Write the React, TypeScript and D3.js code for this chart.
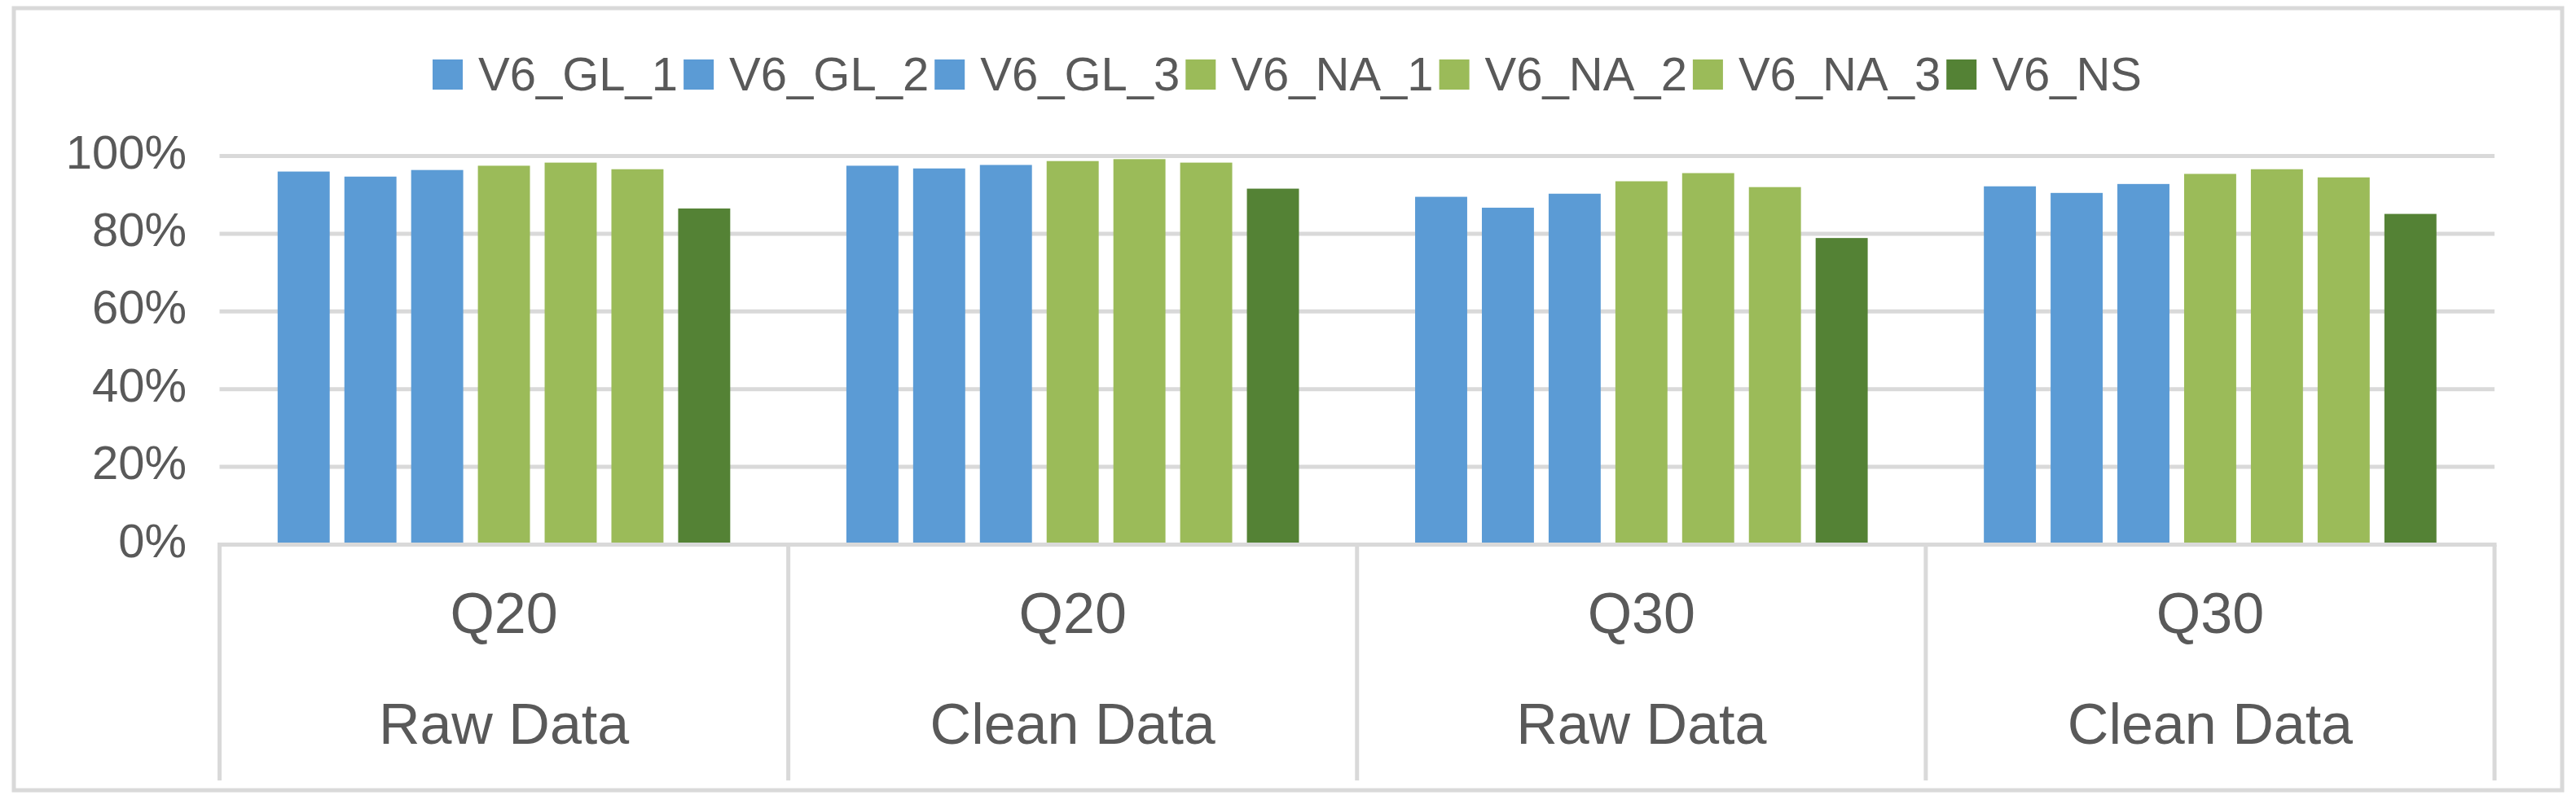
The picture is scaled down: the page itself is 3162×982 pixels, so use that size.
import React, { useEffect, useRef } from 'react';
import * as d3 from 'd3';

// chart data
const categories = ['Q20', 'Q20', 'Q30', 'Q30'];
const subCategories = ['Raw Data', 'Clean Data', 'Raw Data', 'Clean Data'];
const seriesNames = ['V6_GL_1', 'V6_GL_2', 'V6_GL_3', 'V6_NA_1', 'V6_NA_2', 'V6_NA_3', 'V6_NS'];
const seriesColors = ['#5B9BD5', '#5B9BD5', '#5B9BD5', '#9BBB59', '#9BBB59', '#9BBB59', '#548235'];

const gl1 = [0.960, 0.975, 0.895, 0.922];
const gl2 = [0.947, 0.968, 0.867, 0.905];
const gl3 = [0.964, 0.977, 0.903, 0.928];
const na1 = [0.975, 0.987, 0.935, 0.954];
const na2 = [0.983, 0.992, 0.956, 0.966];
const na3 = [0.966, 0.983, 0.920, 0.945];
const ns = [0.865, 0.916, 0.789, 0.851];
const seriesValues = [gl1, gl2, gl3, na1, na2, na3, ns];

const yTicks = [0, 0.2, 0.4, 0.6, 0.8, 1.0];

const W = 3162;
const H = 982;
const FONT = '"Liberation Sans", Arial, Helvetica, sans-serif';
const TEXT = '#595959';
const GRID = '#D9D9D9';

const App: React.FC = () => {
  const svgRef = useRef<SVGSVGElement>(null);

  useEffect(() => {
    if (!svgRef.current) return;
    const svg = d3.select(svgRef.current);
    svg.selectAll('*').remove();

    const left = 269.5, right = 3062, top = 191.5, base = 668.5, boxBottom = 958;

    const x = d3.scaleBand<number>().domain(d3.range(categories.length)).range([left, right]);
    const xs = d3.scaleBand<string>().domain(seriesNames).range([0, x.bandwidth()])
      .paddingInner(0.22).paddingOuter(0.87);
    const y = d3.scaleLinear().domain([0, 1]).range([base, top]);
    const fmt = d3.format('.0%');

    // outer frame
    svg.append('rect')
      .attr('x', 17).attr('y', 10).attr('width', 3128).attr('height', 960)
      .attr('fill', 'white').attr('stroke', GRID).attr('stroke-width', 5);

    // gridlines
    yTicks.filter(t => t > 0).forEach(t => {
      svg.append('line')
        .attr('x1', left).attr('x2', right)
        .attr('y1', y(t)).attr('y2', y(t))
        .attr('stroke', GRID).attr('stroke-width', 5);
    });

    // y labels
    yTicks.forEach(t => {
      svg.append('text')
        .attr('x', 229).attr('y', y(t) + 15)
        .attr('text-anchor', 'end')
        .attr('font-family', FONT).attr('font-size', 58)
        .attr('fill', TEXT)
        .text(fmt(t));
    });

    // bars
    seriesNames.forEach((name, si) => {
      seriesValues[si].forEach((v, ci) => {
        svg.append('rect')
          .attr('x', (x(ci) as number) + (xs(name) as number))
          .attr('y', y(v))
          .attr('width', xs.bandwidth())
          .attr('height', y(0) - 2.5 - y(v))
          .attr('fill', seriesColors[si]);
      });
    });

    // category box
    svg.append('line')
      .attr('x1', left - 2.5).attr('x2', right + 2.5)
      .attr('y1', base).attr('y2', base)
      .attr('stroke', GRID).attr('stroke-width', 5);
    const edges = [...d3.range(categories.length).map(i => x(i) as number), right];
    edges.forEach(ex => {
      svg.append('line')
        .attr('x1', ex).attr('x2', ex)
        .attr('y1', base).attr('y2', boxBottom)
        .attr('stroke', GRID).attr('stroke-width', 5);
    });

    categories.forEach((c, i) => {
      const cx = (x(i) as number) + x.bandwidth() / 2;
      svg.append('text')
        .attr('x', cx).attr('y', 777)
        .attr('text-anchor', 'middle')
        .attr('font-family', FONT).attr('font-size', 70)
        .attr('fill', TEXT)
        .text(c);
      svg.append('text')
        .attr('x', cx).attr('y', 913)
        .attr('text-anchor', 'middle')
        .attr('font-family', FONT).attr('font-size', 70)
        .attr('fill', TEXT)
        .text(subCategories[i]);
    });

    // legend, centred
    const legend = svg.append('g');
    let lx = 0;
    seriesNames.forEach((name, i) => {
      const g = legend.append('g').attr('transform', `translate(${lx},0)`);
      g.append('rect')
        .attr('x', 0).attr('y', 73).attr('width', 37).attr('height', 37)
        .attr('fill', seriesColors[i]);
      const t = g.append('text')
        .attr('x', 56).attr('y', 111)
        .attr('font-family', FONT).attr('font-size', 58)
        .attr('fill', TEXT)
        .text(name);
      const tw = (t.node() as SVGTextElement).getComputedTextLength();
      lx += 56 + tw + (i < seriesNames.length - 1 ? 7 : 0);
    });
    legend.attr('transform', `translate(${1580 - lx / 2},0)`);
  }, []);

  return (
    <svg
      ref={svgRef}
      width={W}
      height={H}
      style={{ position: 'absolute', left: 0, top: 0, background: 'white' }}
    />
  );
};

export default App;
